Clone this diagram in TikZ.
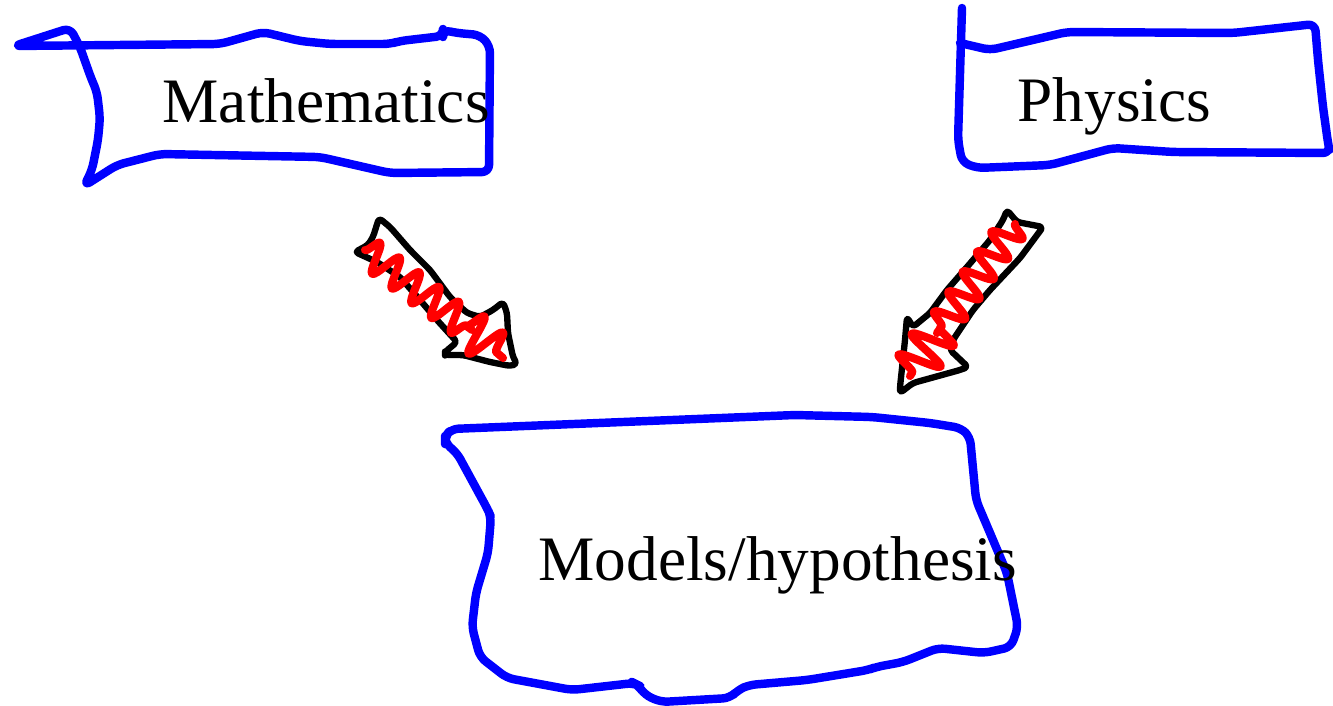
\documentclass[tikz,border=0pt]{standalone}
\usepackage{fontspec}
\setmainfont{Liberation Serif}
\usetikzlibrary{decorations.pathmorphing}
\tikzset{
  inkbox/.style={draw=blue, line width=2.4pt, line cap=round, line join=round, rounded corners=2pt},
  inkarrow/.style={draw=black, fill=white, line width=1.8pt, line join=round, rounded corners=1pt},
  scribble/.style={draw=red, line width=2.3pt, line cap=round, line join=round, decorate,
    decoration={snake, amplitude=#1, segment length=7pt}},
  scribble/.default=4.2pt,
  lbl/.style={anchor=base west, inner sep=0pt, font=\fontsize{18}{22}\selectfont}
}
\begin{document}
\begin{tikzpicture}[x=0.01cm, y=-0.01cm]
  \useasboundingbox (0,0) rectangle (1333,706);
  % Boxes
  \draw[inkbox] (70,28) -- (14,46) -- (220,44) -- (263,32) -- (300,41) -- (330,44) -- (390,44)
    -- (400,41) -- (443,36) -- (443,30) -- (457,33) -- (480,35) -- (490,46) -- (489,172)
    -- (390,173) -- (320,157) -- (160,154) -- (117,165) -- (84,186) -- (92,170) -- (98,140)
    -- (100,118) -- (97,92) -- (91,78) -- (80,47) -- cycle;
  \draw[inkbox] (962,8) -- (958,140) -- (962,162) -- (977,168) -- (1050,165) -- (1113,148)
    -- (1173,152) -- (1330,153) -- (1328,143) -- (1323,107) -- (1318,60) -- (1315,24)
    -- (1233,33) -- (1067,32) -- (990,50) -- (960,43);
  \draw[inkbox] (451,429) -- (795,415) -- (872,417) -- (930,423) -- (961,428) -- (970,437)
    -- (976,500) -- (1007,573) -- (1018,627) -- (1011,647) -- (984,653) -- (938,648)
    -- (903,662) -- (876,667) -- (868,670) -- (807,680) -- (749,685) -- (738,690)
    -- (730,698) -- (661,702) -- (645,695) -- (638,685) -- (634,683) -- (572,690)
    -- (507,678) -- (480,657) -- (472,627) -- (476,593) -- (488,553) -- (491,517)
    -- (488,510) -- (457,453) -- (445,443) -- (445,437) -- cycle;
  % Arrows
  \draw[inkarrow] (355,252) -- (368,245) -- (373,237) -- (379,218) -- (390,227) -- (410,250)
    -- (430,270) -- (450,297) -- (467,313) -- (480,317) -- (493,310) -- (503,302)
    -- (507,313) -- (508,333) -- (513,357) -- (517,364) -- (510,366) -- (490,362)
    -- (463,355) -- (445,355) -- (445,352) -- (457,342) -- (437,320) -- (420,300)
    -- (400,277) -- (377,262) -- cycle;
  \draw[scribble] (365,250) -- (472,330);
  \draw[scribble=5.5pt] (466,326) -- (503,358);
  \draw[inkarrow] (1007,210) -- (1017,222) -- (1043,227) -- (1020,258) -- (990,290)
    -- (973,310) -- (953,340) -- (950,350) -- (968,367) -- (960,370) -- (913,383)
    -- (900,393) -- (900,387) -- (905,340) -- (907,317) -- (913,327) -- (930,313)
    -- (947,290) -- (967,267) -- (990,240) -- (1003,220) -- cycle;
  \draw[scribble] (1015,224) -- (937,333);
  \draw[scribble=6pt] (940,328) -- (910,376);
  % Labels
  \node[lbl] (math) at (162,123) {Mathematics};
  \node[lbl] (phys) at (1017,121) {Physics};
  \node[lbl] (model) at (538,580) {Models/hypothesis};
\end{tikzpicture}
\end{document}
